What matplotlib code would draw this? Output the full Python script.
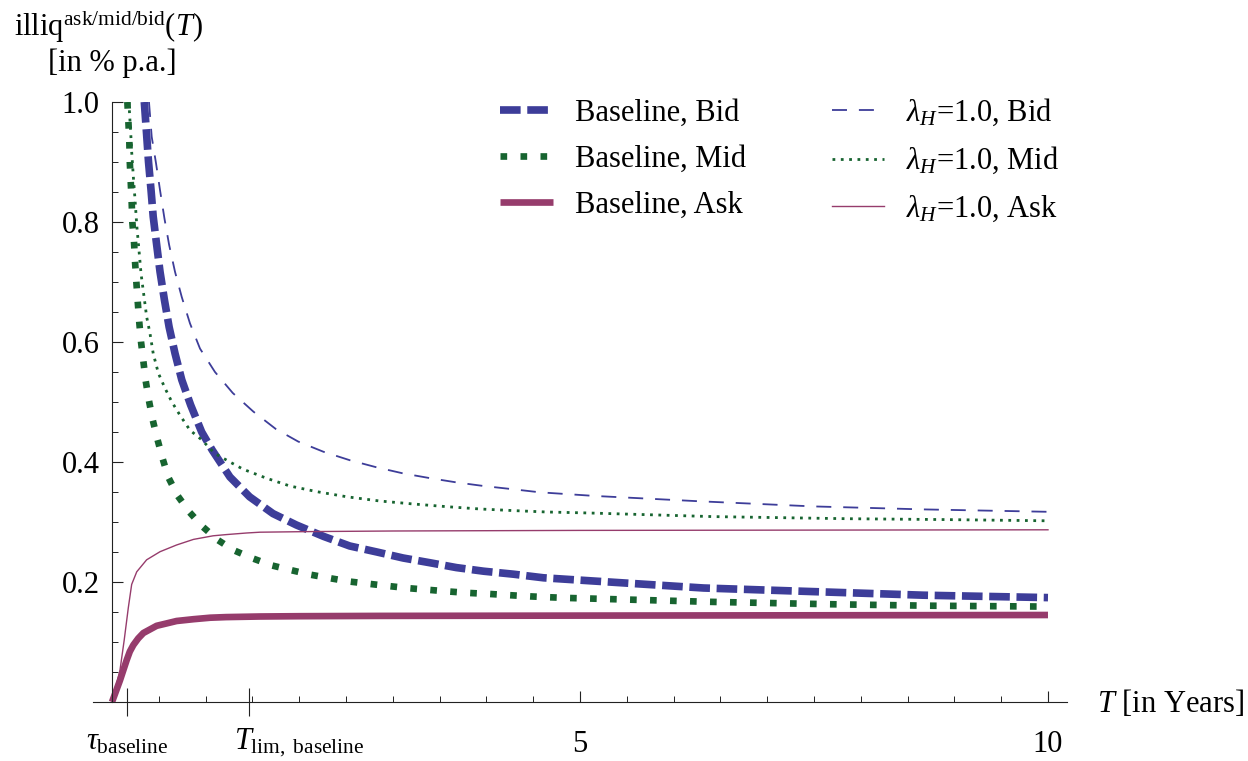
import numpy as np
import matplotlib
matplotlib.use("Agg")
import matplotlib.pyplot as plt
from matplotlib.ticker import FixedLocator
from matplotlib.transforms import ScaledTranslation

plt.rcParams['font.family'] = ['Liberation Serif', 'DejaVu Serif']
plt.rcParams['mathtext.fontset'] = 'custom'
plt.rcParams['mathtext.rm'] = 'Liberation Serif'
plt.rcParams['mathtext.it'] = 'Liberation Serif:italic'
plt.rcParams['mathtext.bf'] = 'Liberation Serif:bold'

# ---------------- data ----------------
bid_base_T = [0.345, 0.37, 0.39, 0.417, 0.44, 0.477, 0.513, 0.56, 0.61, 0.673, 0.745, 0.84,
              0.958, 1.07, 1.26, 1.47, 1.72, 1.97, 2.26, 2.54, 2.83, 3.11, 3.40, 3.68, 3.97,
              4.29, 4.61, 5.11, 6.32, 7.49, 8.67, 10.0]
bid_base_y = [1.0, 0.945, 0.90, 0.853, 0.809, 0.762, 0.717, 0.67, 0.625, 0.581, 0.537, 0.495,
              0.45, 0.42, 0.375, 0.342, 0.314, 0.295, 0.276, 0.26, 0.25, 0.24, 0.232, 0.224, 0.218,
              0.213, 0.207, 0.202, 0.19, 0.184, 0.178, 0.174]

mid_base_T = [0.164, 0.175, 0.185, 0.19, 0.20, 0.21, 0.217, 0.235, 0.246, 0.26, 0.275, 0.29,
              0.31, 0.335, 0.36, 0.395, 0.435, 0.485, 0.54, 0.60, 0.70, 0.83, 0.97, 1.13, 1.30,
              1.50, 1.71, 1.92, 2.12, 2.34, 2.54, 2.76, 2.97, 3.18, 3.40, 3.61, 3.82, 4.04, 4.25,
              4.47, 4.68, 4.89, 5.11, 6.37, 7.65, 8.72, 10.0]
mid_base_y = [1.0, 0.967, 0.934, 0.90, 0.867, 0.834, 0.80, 0.767, 0.734, 0.70, 0.667, 0.635,
              0.60, 0.568, 0.535, 0.502, 0.47, 0.438, 0.406, 0.375, 0.344, 0.316, 0.292, 0.27, 0.253,
              0.2395, 0.2275, 0.2195, 0.2122, 0.206, 0.2007, 0.1967, 0.193, 0.1895, 0.1867, 0.184,
              0.1817, 0.18, 0.178, 0.176, 0.1745, 0.1733, 0.1724, 0.167, 0.163, 0.1605, 0.159]

ask_base_T = [0.0, 0.085, 0.157, 0.19, 0.228, 0.28, 0.335, 0.406, 0.477, 0.584, 0.69, 0.87,
              1.05, 1.22, 1.58, 2.0, 2.86, 5.0, 7.5, 10.0]
ask_base_y = [0.0, 0.036, 0.07, 0.084, 0.095, 0.106, 0.115, 0.121, 0.127, 0.131, 0.135, 0.138,
              0.1405, 0.1415, 0.1425, 0.143, 0.1435, 0.144, 0.1445, 0.145]

bid_h1_T = [0.395, 0.424, 0.47, 0.513, 0.56, 0.61, 0.673, 0.745, 0.833, 0.94, 1.10, 1.29, 1.51,
            1.75, 1.99, 2.26, 2.54, 2.83, 3.11, 3.40, 3.68, 3.97, 4.29, 4.57, 5.15, 6.28, 7.49,
            8.67, 10.0]
bid_h1_y = [1.0, 0.942, 0.898, 0.853, 0.806, 0.762, 0.717, 0.675, 0.631, 0.589, 0.55, 0.515,
            0.484, 0.455, 0.434, 0.417, 0.403, 0.391, 0.381, 0.373, 0.366, 0.36, 0.3545, 0.3495,
            0.3435, 0.3345, 0.326, 0.321, 0.317]

mid_h1_T = [0.18, 0.20, 0.21, 0.228, 0.246, 0.264, 0.288, 0.31, 0.335, 0.37, 0.406, 0.44, 0.495,
            0.566, 0.638, 0.726, 0.833, 0.958, 1.10, 1.26, 1.40, 1.65, 1.90, 2.19, 2.51, 2.86,
            3.22, 3.58, 3.93, 4.29, 4.64, 5.1, 6.42, 7.85, 8.92, 10.0]
mid_h1_y = [1.0, 0.948, 0.917, 0.875, 0.837, 0.795, 0.753, 0.714, 0.684, 0.642, 0.614, 0.581,
            0.548, 0.523, 0.5005, 0.478, 0.453, 0.437, 0.414, 0.40, 0.388, 0.373, 0.36, 0.3505,
            0.342, 0.335, 0.33, 0.3255, 0.3217, 0.319, 0.3167, 0.315, 0.309, 0.3055, 0.304, 0.302]

ask_h1_T = [0.0, 0.085, 0.13, 0.174, 0.21, 0.264, 0.37, 0.513, 0.69, 0.87, 1.08, 1.22, 1.44,
            1.58, 2.1, 3.0, 5.0, 7.5, 10.0]
ask_h1_y = [0.0, 0.053, 0.103, 0.157, 0.196, 0.217, 0.237, 0.2505, 0.2617, 0.271, 0.277, 0.279,
            0.2817, 0.283, 0.284, 0.285, 0.286, 0.2865, 0.287]

labels = ['Baseline, Bid', 'Baseline, Mid', 'Baseline, Ask',
          r'$\lambda_H$=1.0, Bid', r'$\lambda_H$=1.0, Mid', r'$\lambda_H$=1.0, Ask']

tau_baseline = 0.16
t_lim_baseline = 1.46
x_major = [5, 10]
x_major_labels = ['5', '10']
x_special = [tau_baseline, t_lim_baseline]
x_special_labels = [r'$\tau_{\mathrm{baseline}}$', r'$T_{\mathrm{lim,\ baseline}}$']
x_minor = [0.5 * k for k in range(1, 21) if k not in (10, 20)]
y_major = [0.2, 0.4, 0.6, 0.8, 1.0]
y_major_labels = ['0.2', '0.4', '0.6', '0.8', '1.0']
y_minor = [0.05 * k for k in range(1, 20) if k % 4 != 0]

BLUE = '#3d3d99'
GREEN = '#176430'
PURPLE = '#963c6c'
FS = 22

# ---------------- figure ----------------
W, H = 1248, 761
fig = plt.figure(figsize=(W / 100, H / 100), dpi=100)
ax = fig.add_axes([93.3 / W, 59 / H, (1066.7 - 93.3) / W, 600 / H])
ax.set_xlim(-0.2, 10.2)
ax.set_ylim(0, 1.0)

l1, = ax.plot(bid_base_T, bid_base_y, color=BLUE, lw=5.5, dashes=(2.7, 0.87),
              dash_capstyle='butt', solid_capstyle='butt')
l2, = ax.plot(mid_base_T, mid_base_y, color=GREEN, lw=4.8, dashes=(1.0, 2.0),
              dash_capstyle='butt')
l3, = ax.plot(ask_base_T, ask_base_y, color=PURPLE, lw=4.8, solid_capstyle='butt',
              solid_joinstyle='round')
l4, = ax.plot(bid_h1_T, bid_h1_y, color=BLUE, lw=1.3, dashes=(8.3, 6.6),
              dash_capstyle='butt')
l5, = ax.plot(mid_h1_T, mid_h1_y, color=GREEN, lw=2.0, dashes=(1.0, 2.0),
              dash_capstyle='butt')
l6, = ax.plot(ask_h1_T, ask_h1_y, color=PURPLE, lw=1.0)

# axes styling (Mathematica-like axes through origin)
for s in ('top', 'right'):
    ax.spines[s].set_visible(False)
ax.spines['left'].set_position(('data', 0))
ax.spines['bottom'].set_position(('data', 0))
for s in ('left', 'bottom'):
    ax.spines[s].set_linewidth(0.8)
    ax.spines[s].set_color('#222222')

ax.set_yticks(y_major, y_major_labels)
ax.yaxis.set_minor_locator(FixedLocator(y_minor))
ax.tick_params(axis='y', which='major', direction='in', length=8, width=0.8,
               labelsize=FS, pad=9, color='#222222')
ax.tick_params(axis='y', which='minor', direction='in', length=4.3, width=0.7,
               color='#222222')

ax.set_xticks(x_major, x_major_labels)
ax.xaxis.set_minor_locator(FixedLocator(x_minor))
ax.tick_params(axis='x', which='major', direction='in', length=8, width=0.8,
               labelsize=FS, pad=20, color='#222222')
ax.tick_params(axis='x', which='minor', direction='in', length=4, width=0.7,
               color='#222222')

sec = ax.secondary_xaxis(0.0)
sec.set_xticks(x_special, x_special_labels)
sec.tick_params(axis='x', which='major', direction='inout', length=20, width=0.8,
                labelsize=FS, pad=8, color='#222222')
sec.spines['bottom'].set_visible(False)
lbls = sec.get_xticklabels()
lbls[1].set_transform(lbls[1].get_transform() + ScaledTranslation(0.51, 0, fig.dpi_scale_trans))

# axis labels
fig.text(108 / W, 1 - 36 / H, r'illiq$^{\mathrm{ask/mid/bid}}(T)$', ha='center',
         va='baseline', fontsize=FS)
fig.text(112 / W, 1 - 71 / H, '[in % p.a.]', ha='center', va='baseline', fontsize=FS)
fig.text(1097 / W, 1 - 703 / H, r'$T$ [in Years]', ha='left', va='center', fontsize=FS)

# legend
leg = ax.legend([l1, l2, l3, l4, l5, l6], labels, ncol=2, frameon=False,
                loc='upper left', bbox_to_anchor=(500 / W, 1 - 97 / H),
                bbox_transform=fig.transFigure, borderpad=0, borderaxespad=0,
                handlelength=1.73, handletextpad=0.72, columnspacing=2.8,
                labelspacing=0.55, fontsize=FS)

fig.savefig('out.png', dpi=100)
